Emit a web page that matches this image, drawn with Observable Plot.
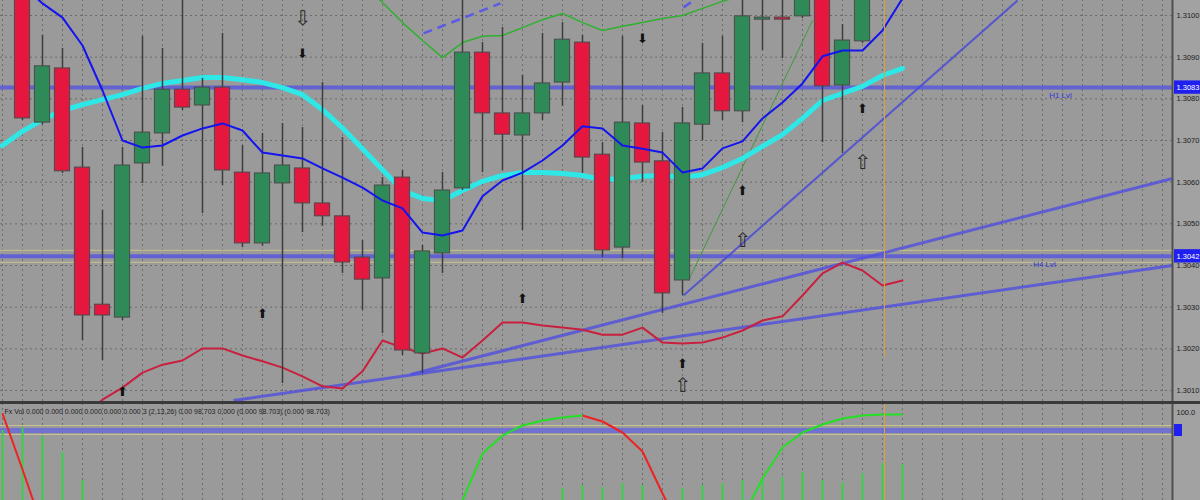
<!DOCTYPE html>
<html><head><meta charset="utf-8">
<script src="https://cdn.jsdelivr.net/npm/d3@7"></script>
<script src="https://cdn.jsdelivr.net/npm/@observablehq/plot@0.6"></script>
<style>
html,body{margin:0;padding:0;background:#9a9a9a;overflow:hidden;width:1200px;height:500px;}
#main,#lower{display:block;line-height:0}
#sep{height:3px;background:#3a3a3a;}
svg{display:block}
</style></head><body>
<div id="main"></div><div id="sep"></div><div id="lower"></div>
<script>
// ---------- data ----------
const barIndex = d3.range(1, 44);
const opens  = [1.31084,1.30743,1.30873,1.30635,1.30306,1.30275,1.30645,1.30717,1.30822,1.30784,1.30827,1.30623,1.30453,1.30597,1.30633,1.30549,1.30518,1.30419,1.30369,1.30611,1.30189,1.30429,1.30585,1.30911,1.30765,1.30712,1.30765,1.30839,1.30935,1.30666,1.30443,1.30741,1.3065,1.30364,1.30738,1.30861,1.3077,1.3099,1.30995,1.30998,1.3106,1.30832,1.30938];
const highs  = [1.31096,1.30952,1.30921,1.30683,1.30532,1.30683,1.3095,1.30921,1.3106,1.30849,1.30957,1.30688,1.30717,1.30741,1.30731,1.30839,1.30707,1.3046,1.30611,1.30628,1.30448,1.30623,1.3105,1.30935,1.30971,1.30856,1.30957,1.30983,1.30952,1.30695,1.3095,1.30784,1.30719,1.30779,1.30933,1.3095,1.3105,1.31048,1.31048,1.31072,1.31072,1.30978,1.31072];
const lows   = [1.30748,1.30738,1.30621,1.3022,1.30172,1.30268,1.30597,1.30638,1.30772,1.30525,1.30592,1.30443,1.30446,1.30117,1.30479,1.30494,1.30381,1.30292,1.30237,1.30184,1.30141,1.30381,1.3058,1.30623,1.30628,1.30484,1.30748,1.30782,1.30621,1.30419,1.30417,1.30599,1.30285,1.30328,1.307,1.30748,1.30743,1.30916,1.30897,1.30993,1.30695,1.30669,1.30933];
const closes = [1.30753,1.30878,1.30626,1.3028,1.3028,1.3064,1.30719,1.30822,1.30779,1.30827,1.30628,1.30453,1.30621,1.3064,1.30549,1.30518,1.30407,1.30366,1.30592,1.30196,1.30434,1.3058,1.30911,1.30765,1.30714,1.30765,1.30837,1.30942,1.30659,1.30436,1.30743,1.30647,1.30333,1.30741,1.30861,1.3077,1.30998,1.30995,1.3099,1.3106,1.3083,1.3094,1.3106];

const maStart = 1;
const maValues = [1.31072,1.31029,1.30995,1.30928,1.3082,1.307,1.30683,1.30688,1.30712,1.30729,1.30741,1.30724,1.30671,1.30664,1.30657,1.30633,1.30611,1.30587,1.30556,1.30537,1.30479,1.30472,1.30484,1.30566,1.30604,1.30623,1.30652,1.30688,1.30734,1.30729,1.30688,1.3068,1.30671,1.30623,1.30633,1.30681,1.30698,1.30753,1.30791,1.30837,1.30902,1.30916,1.30916,1.30964,1.31041];

const slowStart = 0;
const slowValues = [1.30688,1.30722,1.3075,1.30772,1.30786,1.30798,1.3081,1.30825,1.30837,1.30844,1.30851,1.30851,1.30846,1.30839,1.30827,1.3081,1.30774,1.3073,1.3068,1.3063,1.3058,1.30561,1.30556,1.3058,1.30602,1.30616,1.30623,1.30623,1.30621,1.30616,1.30606,1.30609,1.30614,1.30616,1.30611,1.30618,1.30635,1.30657,1.30686,1.30714,1.30753,1.30796,1.30813,1.3083,1.30856,1.30873];

const lowerLineStart = 4;
const lowerLineValues = [1.3004,1.30078,1.30107,1.30143,1.30162,1.30172,1.30201,1.30201,1.30184,1.3017,1.30155,1.30134,1.3011,1.30105,1.30146,1.3022,1.30203,1.30189,1.30201,1.30179,1.3022,1.30263,1.30263,1.30256,1.30251,1.30246,1.30234,1.30234,1.30251,1.30215,1.30213,1.30215,1.30227,1.30244,1.30268,1.30278,1.30328,1.30381,1.30407,1.30388,1.30352,1.30364];

const envStart = 18;
const envValues = [1.31079,1.31031,1.30983,1.3094,1.30899,1.30935,1.3095,1.30952,1.30971,1.3099,1.31005,1.30983,1.30964,1.30974,1.30983,1.30993,1.31,1.31017,1.31034,1.31048];

const levelPrices = [1.30827, 1.30422];
const levelNames = ["H1 Lvl", "H4 Lvl"];
const levelLabelPos = [52.9, 52.1];

const trendFrom = [[20.4, 1.301384], [11.55, 1.30076], [34.05, 1.30328]];
const trendTo   = [[58.5, 1.306088], [58.5, 1.304], [50.75, 1.31036]];
const greenTrendFrom = [34.3, 1.30364];
const greenTrendTo = [40.5, 1.30988];
const dashFrom = [[21.05, 1.30957], [34.05, 1.31019]];
const dashTo   = [[24.9, 1.31029], [34.55, 1.31036]];

const arrowIdx   = [15, 15, 6, 13, 26, 32, 37, 37, 34, 34, 43, 43];
const arrowPrice = [1.30993, 1.30909, 1.30098, 1.30285, 1.30321, 1.30945, 1.3058, 1.3046, 1.30165, 1.30112, 1.30777, 1.30647];
const arrowKind  = ["downHollow","down","up","up","up","down","up","upHollow","up","upHollow","up","upHollow"];

const priceTicks = [1.31, 1.309, 1.308, 1.307, 1.306, 1.305, 1.304, 1.303, 1.302, 1.301];
const currentBar = 44.1;
const currentBarLow = 1.30179;

// oscillator (lower panel)
const oscValues = [99,43,-15,null,null,null,null,null,null,null,null,null,null,null,null,null,null,null,null,null,null,null,-25,12,59,77,87,92,95,97,91,80,61,19,-20,null,null,-5,34,65,80,88,94,97,98,98];
const histIdx = [0,1,2,3,4,28,29,30,31,32,34,35,36,37,38,39,40,41,42,43,44,45];
const histVal = [82,85,76,60,32,24,27,25,29,27,24,27,29,32,32,35,40,32,30,39,49,48];
const oscLevel = 82;
const oscTicks = [100];
const oscHeader = "Fx Vol 0.000 0.000 0.000 0.000 0.000 0.000 3 (2,13,26) 0.00 98.703 0.000 (0.000 98.703) (0.000 98.703)";

// ---------- build ----------
const xDomain = [-0.1, 59.9];
const plotEnd = 58.5;
const yDomain = [1.300736, 1.31036];
const gridColor = "#6c6c6c";

const candles = barIndex.map((i, k) => ({i, o: opens[k], h: highs[k], l: lows[k], c: closes[k]}));
const series = (start, vals) => vals.map((v, k) => ({i: start + k, v}));
const ma = series(maStart, maValues);
const slow = series(slowStart, slowValues);
const lowLine = series(lowerLineStart, lowerLineValues);
const env = series(envStart, envValues);
const trends = trendFrom.map((f, k) => ({x1: f[0], y1: f[1], x2: trendTo[k][0], y2: trendTo[k][1]}));
const dashes = dashFrom.map((f, k) => ({x1: f[0], y1: f[1], x2: dashTo[k][0], y2: dashTo[k][1]}));
const arrows = arrowIdx.map((i, k) => ({i, p: arrowPrice[k], kind: arrowKind[k]}));
const glyph = {up: "⬆", down: "⬇", upHollow: "⇧", downHollow: "⇩"};
const levels = levelPrices.map((p, k) => ({p, name: levelNames[k], pos: levelLabelPos[k]}));

const main = Plot.plot({
  width: 1200, height: 401, margin: 0,
  x: {domain: xDomain, axis: null},
  y: {domain: yDomain, axis: null},
  style: {background: "#9a9a9a", fontFamily: "Liberation Sans, DejaVu Sans, sans-serif"},
  marks: [
    Plot.rect([0], {x1: plotEnd, x2: xDomain[1], y1: yDomain[0], y2: yDomain[1], fill: "#a2a2a2"}),
    Plot.ruleY(priceTicks, {x1: xDomain[0], x2: plotEnd, stroke: gridColor, strokeDasharray: "2,3"}),
    Plot.ruleX(d3.range(0, 59), {y1: yDomain[0], y2: yDomain[1], stroke: gridColor, strokeDasharray: "2,3"}),
    // levels
    Plot.ruleY([levelPrices[1]], {x1: xDomain[0], x2: plotEnd, stroke: "#c9c28e", strokeWidth: 1, dy: -6}),
    Plot.ruleY([levelPrices[1]], {x1: xDomain[0], x2: plotEnd, stroke: "#c9c28e", strokeWidth: 1, dy: 6}),
    Plot.ruleY(levelPrices, {x1: xDomain[0], x2: plotEnd, stroke: "#5858dc", strokeWidth: 4, strokeOpacity: 0.85}),
    Plot.text(levels, {x: "pos", y: "p", text: "name", dy: 8, fill: "#3434d8", fontSize: 8}),
    // trend lines
    Plot.link(trends.slice(0, 2), {x1: "x1", y1: "y1", x2: "x2", y2: "y2", stroke: "#4f4fe0", strokeWidth: 3, strokeOpacity: 0.8}),
    Plot.link(trends.slice(2), {x1: "x1", y1: "y1", x2: "x2", y2: "y2", stroke: "#4a4ad8", strokeWidth: 2, strokeOpacity: 0.85}),
    Plot.link([0], {x1: greenTrendFrom[0], y1: greenTrendFrom[1], x2: greenTrendTo[0], y2: greenTrendTo[1], stroke: "#3f9a3f", strokeWidth: 1}),
    Plot.link(dashes, {x1: "x1", y1: "y1", x2: "x2", y2: "y2", stroke: "#5a5ae6", strokeWidth: 2.5, strokeDasharray: "9,6"}),
    // indicator lines
    Plot.line(lowLine, {x: "i", y: "v", stroke: "#c8203e", strokeWidth: 2, curve: "linear"}),
    Plot.line(slow, {x: "i", y: "v", stroke: "#2ee8e8", strokeWidth: 5, curve: "linear"}),
    Plot.line(env, {x: "i", y: "v", stroke: "#2fb12f", strokeWidth: 1.5}),
    // candles
    Plot.ruleX(candles, {x: "i", y1: "l", y2: "h", stroke: "#3c3c3c", strokeWidth: 1.5}),
    Plot.rect(candles.filter(d => d.c >= d.o), {x1: d => d.i - 0.38, x2: d => d.i + 0.38, y1: "o", y2: "c", fill: "#2e8b57", stroke: "#4a4a4a", strokeWidth: 1}),
    Plot.rect(candles.filter(d => d.c < d.o), {x1: d => d.i - 0.38, x2: d => d.i + 0.38, y1: "o", y2: "c", fill: "#e5173e", stroke: "#4a4a4a", strokeWidth: 1}),
    Plot.line(ma, {x: "i", y: "v", stroke: "#1414f0", strokeWidth: 2}),
    // current bar marker
    Plot.ruleX([currentBar], {y1: currentBarLow, y2: yDomain[1], stroke: "#e39c3c", strokeWidth: 1}),
    // arrows
    Plot.text(arrows.filter(d => !d.kind.includes("Hollow")), {x: "i", y: "p", text: d => glyph[d.kind], fontSize: 13, fill: "#111", fontFamily: "DejaVu Sans"}),
    Plot.text(arrows.filter(d => d.kind.includes("Hollow")), {x: "i", y: "p", text: d => glyph[d.kind], fontSize: 20, fill: "#2a2a2a", fontFamily: "DejaVu Sans"}),
    // right axis
    Plot.ruleX([plotEnd], {y1: yDomain[0], y2: yDomain[1], stroke: "#505050", strokeWidth: 2}),
    Plot.text(priceTicks, {x: plotEnd, y: d => d, text: d => d.toFixed(4), textAnchor: "start", dx: 4, fontSize: 7.5, fill: "#1c1c1c"}),
    Plot.rect(levelPrices, {x1: plotEnd + 0.1, x2: xDomain[1], y1: d => d - 0.00016, y2: d => d + 0.00016, fill: "#1f1ff0"}),
    Plot.text(levelPrices, {x: plotEnd, y: d => d, text: d => d.toFixed(4), textAnchor: "start", dx: 4, fontSize: 7.5, fill: "#ffffff"})
  ]
});
document.getElementById("main").append(main);

// lower panel
const oscPts = oscValues.map((v, i) => ({i, v}));
const segs = [];
for (let k = 0; k + 1 < oscPts.length; k++) {
  const a = oscPts[k], b = oscPts[k + 1];
  if (a.v == null || b.v == null) continue;
  segs.push({x1: a.i, y1: a.v, x2: b.i, y2: b.v, up: b.v >= a.v});
}
const hist = histIdx.map((i, k) => ({i, v: histVal[k]}));
const lyDomain = [12, 108];

const lower = Plot.plot({
  width: 1200, height: 96, margin: 0,
  x: {domain: xDomain, axis: null},
  y: {domain: lyDomain, axis: null},
  style: {background: "#9a9a9a", fontFamily: "Liberation Sans, DejaVu Sans, sans-serif"},
  marks: [
    Plot.rect([0], {x1: plotEnd, x2: xDomain[1], y1: lyDomain[0], y2: lyDomain[1], fill: "#a2a2a2"}),
    Plot.ruleX(d3.range(0, 59), {y1: lyDomain[0], y2: lyDomain[1], stroke: gridColor, strokeDasharray: "2,3"}),
    Plot.ruleY([oscLevel], {x1: xDomain[0], x2: plotEnd, stroke: "#c9c28e", strokeWidth: 1, dy: -5}),
    Plot.ruleY([oscLevel], {x1: xDomain[0], x2: plotEnd, stroke: "#c9c28e", strokeWidth: 1, dy: 4}),
    Plot.ruleY([oscLevel], {x1: xDomain[0], x2: plotEnd, stroke: "#6a6ad8", strokeWidth: 5, strokeOpacity: 0.85}),
    Plot.ruleX(hist, {x: "i", y1: lyDomain[0], y2: "v", stroke: "#38d048", strokeWidth: 2}),
    Plot.link(segs.filter(d => d.up), {x1: "x1", y1: "y1", x2: "x2", y2: "y2", stroke: "#22e022", strokeWidth: 2}),
    Plot.link(segs.filter(d => !d.up), {x1: "x1", y1: "y1", x2: "x2", y2: "y2", stroke: "#ee2222", strokeWidth: 2}),
    Plot.ruleX([currentBar], {y1: lyDomain[0], y2: lyDomain[1], stroke: "#e39c3c", strokeWidth: 1}),
    Plot.text([oscHeader], {frameAnchor: "top-left", dx: 4, dy: 5, fontSize: 7, fill: "#1e1e1e"}),
    Plot.ruleX([plotEnd], {y1: lyDomain[0], y2: lyDomain[1], stroke: "#505050", strokeWidth: 2}),
    Plot.text(oscTicks, {x: plotEnd, y: d => d, text: d => d.toFixed(1), textAnchor: "start", dx: 4, fontSize: 7.5, fill: "#1c1c1c"}),
    Plot.rect([oscLevel], {x1: plotEnd + 0.1, x2: plotEnd + 0.5, y1: d => d - 6, y2: d => d + 6, fill: "#1f1ff0"})
  ]
});
document.getElementById("lower").append(lower);
</script>
</body></html>
